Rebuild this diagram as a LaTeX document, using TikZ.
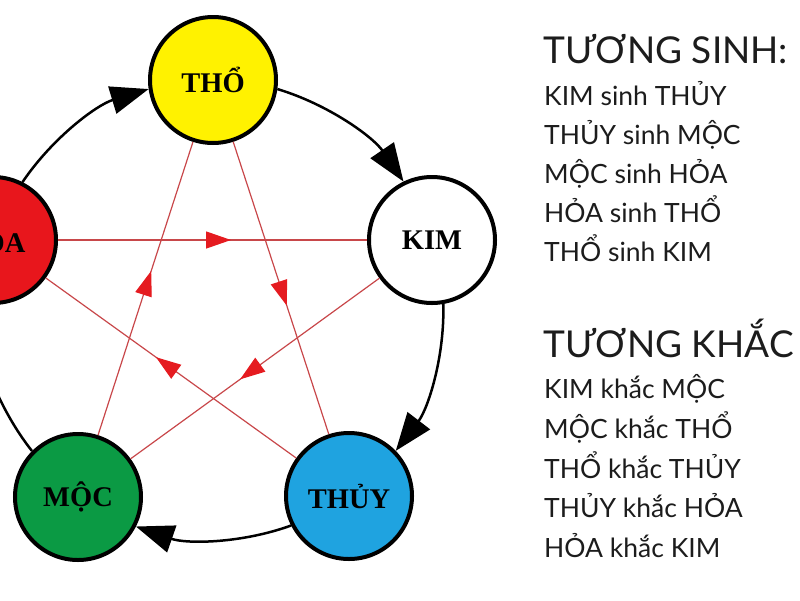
\documentclass[tikz,border=0pt]{standalone}
\usepackage{fontspec}
\setmainfont{Lato}
\newfontfamily\labelfont{Liberation Serif}
\usetikzlibrary{arrows.meta, decorations.markings}

\definecolor{thoyellow}{HTML}{FFF200}
\definecolor{hoared}{HTML}{E8161C}
\definecolor{mocgreen}{HTML}{0B9A44}
\definecolor{thuyblue}{HTML}{1FA3E0}
\definecolor{khacline}{HTML}{C8474A}
\definecolor{khacred}{HTML}{E51B20}
\definecolor{textgray}{HTML}{1C1C1C}

\begin{document}
\begin{tikzpicture}[x=1pt, y=-1pt,
  element/.style={circle, draw=black, line width=4pt, minimum size=126pt, inner sep=0pt,
    font=\labelfont\bfseries\fontsize{28.5}{28.5}\selectfont},
  sinh/.style={line width=2.5pt, -{Triangle[length=38pt, width=28pt]}, bend left=19.5, looseness=0.88},
  khac/.style={draw=khacline, line width=1.2pt, postaction={decorate},
    decoration={markings, mark=at position 0.56 with {\arrow[khacred]{Triangle[length=25pt, width=17pt]}}}},
  heading/.style={anchor=base west, inner sep=0pt, text=textgray, font=\fontsize{37}{37}\selectfont},
  rule/.style={anchor=base west, inner sep=0pt, text=textgray, font=\fontsize{26.5}{26.5}\selectfont}]
  \useasboundingbox (0,0) rectangle (800,600);

  % Elements
  \node[element, fill=thoyellow] (tho) at (213,80) {THỔ};
  \node[element, fill=white] (kim) at (432,240) {KIM};
  \node[element, fill=thuyblue] (thuy) at (349,496) {THỦY};
  \node[element, fill=mocgreen] (moc) at (78,497) {MỘC};
  \node[element, fill=hoared] (hoa) at (-7,240) {HỎA};

  % Tuong sinh (outer ring)
  \draw[sinh] (hoa.63.75) to (tho.188.25);
  \draw[sinh] (tho.-8.25) to (kim.116.25);
  \draw[sinh] (kim.-80.25) to (thuy.44.25);
  \draw[sinh] (thuy.207.75) to (moc.-27.75);
  \draw[sinh] (moc.135.75) to (hoa.260.25);

  % Tuong khac (star)
  \draw[khac] (hoa) -- (kim);
  \draw[khac] (kim) -- (moc);
  \draw[khac] (moc) -- (tho);
  \draw[khac] (tho) -- (thuy);
  \draw[khac] (thuy) -- (hoa);

  % Legend
  \node[heading] (sinhtitle) at (543,63) {TƯƠNG SINH:};
  \node[rule] (sinh1) at (544,105) {KIM sinh THỦY};
  \node[rule] (sinh2) at (544,144) {THỦY sinh MỘC};
  \node[rule] (sinh3) at (544,183) {MỘC sinh HỎA};
  \node[rule] (sinh4) at (544,222) {HỎA sinh THỔ};
  \node[rule] (sinh5) at (544,261) {THỔ sinh KIM};

  \node[heading] (khactitle) at (543,357) {TƯƠNG KHẮC};
  \node[rule] (khac1) at (544,398) {KIM khắc MỘC};
  \node[rule] (khac2) at (544,438) {MỘC khắc THỔ};
  \node[rule] (khac3) at (544,478) {THỔ khắc THỦY};
  \node[rule] (khac4) at (544,517) {THỦY khắc HỎA};
  \node[rule] (khac5) at (544,557) {HỎA khắc KIM};
\end{tikzpicture}
\end{document}
